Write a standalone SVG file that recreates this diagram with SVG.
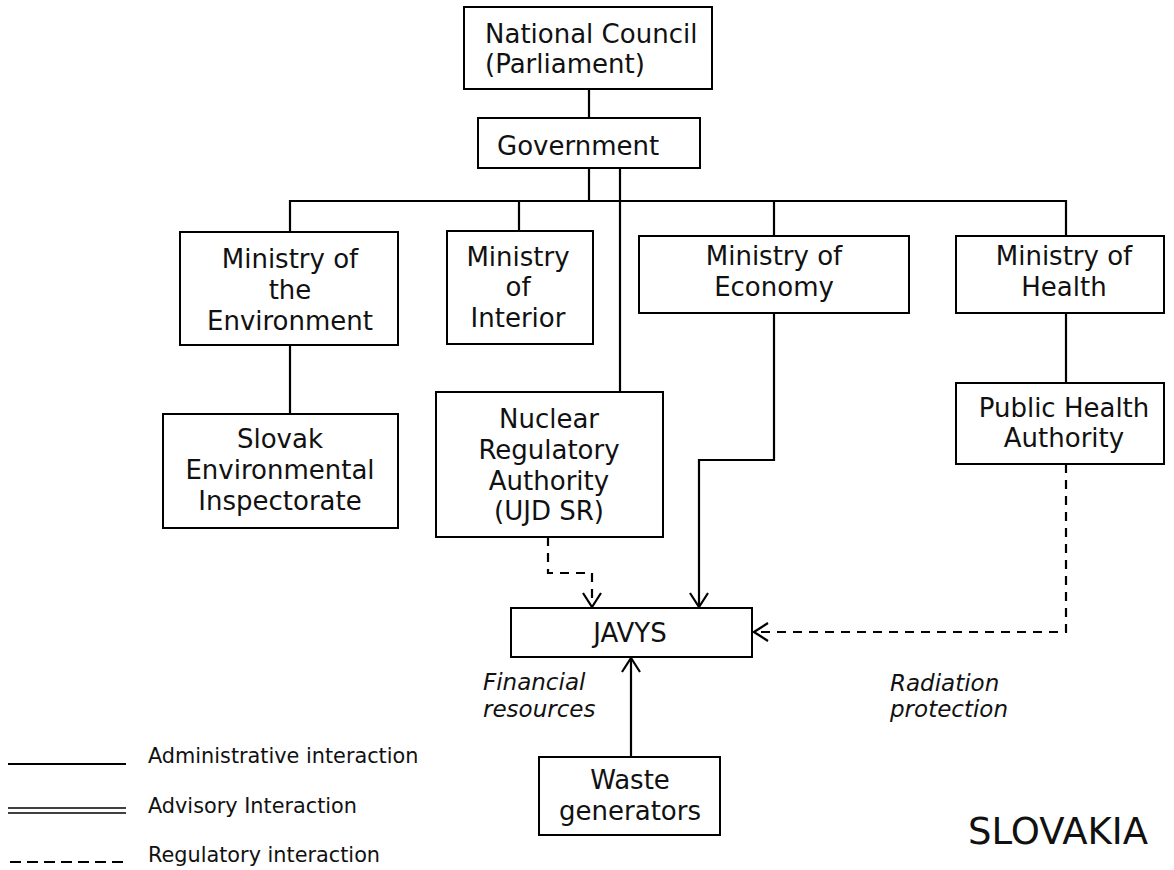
<svg xmlns="http://www.w3.org/2000/svg" width="1174" height="870" viewBox="0 0 1174 870">
<style>
.box{fill:#fff;stroke:#000;stroke-width:2}
.t{font-family:"DejaVu Sans","Verdana",sans-serif;font-size:26px;fill:#111}
.c{text-anchor:middle}
.it{font-family:"DejaVu Sans","Verdana",sans-serif;font-size:23px;font-style:italic;fill:#111}
.lg{font-family:"DejaVu Sans","Verdana",sans-serif;font-size:20.8px;fill:#111}
.ln{fill:none;stroke:#000;stroke-width:2.2}
.dash{stroke-dasharray:9 7}
</style>
<defs>
<marker id="arr" viewBox="0 0 16 20" refX="15" refY="10" markerWidth="16" markerHeight="20" markerUnits="userSpaceOnUse" orient="auto">
<path d="M1,1 L15,10 L1,19" fill="none" stroke="#000" stroke-width="2.2"/>
</marker>
</defs>
<rect width="1174" height="870" fill="#fff"/>
<g id="connectors">
<path class="ln" d="M589,89 V118"/>
<path class="ln" d="M589,168 V201"/>
<path class="ln" d="M290,232 V201 H1066 V236"/>
<path class="ln" d="M519,201 V231"/>
<path class="ln" d="M774,201 V236"/>
<path class="ln" d="M620,168 V392"/>
<path class="ln" d="M290,345 V414"/>
<path class="ln" d="M1066,313 V383"/>
<path class="ln" d="M774,313 V460 H699 V607" marker-end="url(#arr)"/>
<path class="ln dash" d="M548,537 V573 H592 V607" marker-end="url(#arr)"/>
<path class="ln dash" d="M1066,464 V632 H754" marker-end="url(#arr)"/>
<path class="ln" d="M631,757 V658" marker-end="url(#arr)"/>
</g>
<g id="national-council">
<rect class="box" x="464" y="7" width="248" height="82"/>
<text class="t" x="485" y="43">National Council</text>
<text class="t" x="485" y="73">(Parliament)</text>
</g>
<g id="government">
<rect class="box" x="478" y="118" width="222" height="50"/>
<text class="t" x="497" y="155">Government</text>
</g>
<g id="ministry-environment">
<rect class="box" x="180" y="232" width="218" height="113"/>
<text class="t c" x="290" y="268">Ministry of</text>
<text class="t c" x="290" y="299">the</text>
<text class="t c" x="290" y="330">Environment</text>
</g>
<g id="ministry-interior">
<rect class="box" x="447" y="231" width="146" height="113"/>
<text class="t c" x="518" y="266">Ministry</text>
<text class="t c" x="518" y="296">of</text>
<text class="t c" x="518" y="327">Interior</text>
</g>
<g id="ministry-economy">
<rect class="box" x="639" y="236" width="270" height="77"/>
<text class="t c" x="774" y="265">Ministry of</text>
<text class="t c" x="774" y="296">Economy</text>
</g>
<g id="ministry-health">
<rect class="box" x="956" y="236" width="208" height="77"/>
<text class="t c" x="1064" y="265">Ministry of</text>
<text class="t c" x="1064" y="296">Health</text>
</g>
<g id="slovak-inspectorate">
<rect class="box" x="163" y="414" width="235" height="114"/>
<text class="t c" x="280" y="448">Slovak</text>
<text class="t c" x="280" y="479">Environmental</text>
<text class="t c" x="280" y="510">Inspectorate</text>
</g>
<g id="nuclear-regulatory">
<rect class="box" x="436" y="392" width="227" height="145"/>
<text class="t c" x="549" y="428">Nuclear</text>
<text class="t c" x="549" y="459">Regulatory</text>
<text class="t c" x="549" y="490">Authority</text>
<text class="t c" x="549" y="520">(UJD SR)</text>
</g>
<g id="public-health">
<rect class="box" x="956" y="383" width="208" height="81"/>
<text class="t c" x="1064" y="417">Public Health</text>
<text class="t c" x="1064" y="447">Authority</text>
</g>
<g id="javys">
<rect class="box" x="511" y="608" width="241" height="49"/>
<text class="t c" x="630" y="642">JAVYS</text>
</g>
<g id="waste-generators">
<rect class="box" x="539" y="757" width="181" height="78"/>
<text class="t c" x="630" y="789">Waste</text>
<text class="t c" x="630" y="820">generators</text>
</g>
<g id="labels">
<text class="it" x="483" y="690">Financial</text>
<text class="it" x="483" y="717">resources</text>
<text class="it" x="890" y="691">Radiation</text>
<text class="it" x="890" y="717">protection</text>
<text x="968" y="844" style="font-family:'DejaVu Sans','Verdana',sans-serif;font-size:37px;fill:#111">SLOVAKIA</text>
</g>
<g id="legend">
<line x1="8" y1="764" x2="126" y2="764" stroke="#000" stroke-width="2.2"/>
<line x1="8" y1="808" x2="126" y2="808" stroke="#000" stroke-width="1.6"/>
<line x1="8" y1="813" x2="126" y2="813" stroke="#000" stroke-width="1.6"/>
<line x1="10" y1="862" x2="126" y2="862" stroke="#000" stroke-width="2.2" stroke-dasharray="11 6"/>
<text class="lg" x="148" y="763">Administrative interaction</text>
<text class="lg" x="148" y="813">Advisory Interaction</text>
<text class="lg" x="148" y="862">Regulatory interaction</text>
</g>
</svg>
